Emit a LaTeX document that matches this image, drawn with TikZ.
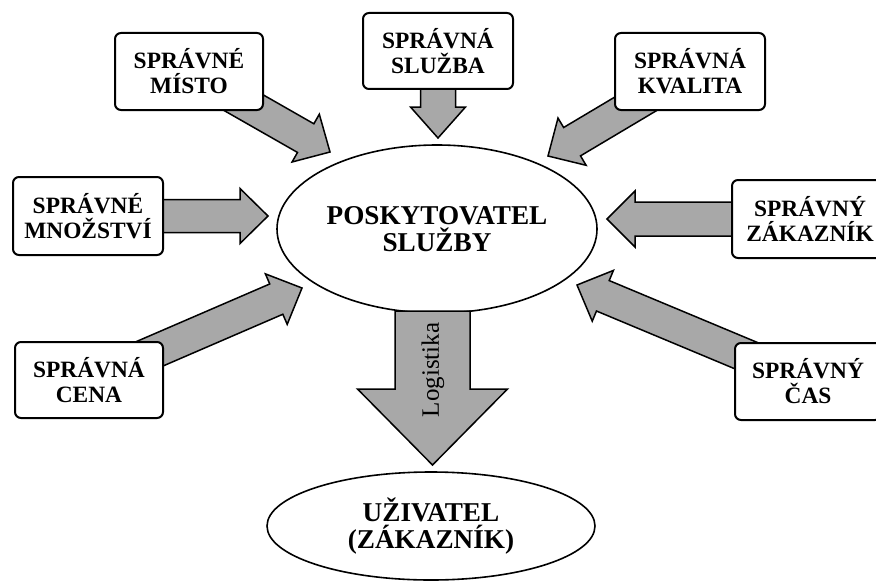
\documentclass[tikz,border=0pt]{standalone}
\usepackage{fontspec}
\setmainfont{Liberation Serif}
\usetikzlibrary{calc,shapes.geometric}
\definecolor{arrowgray}{RGB}{168,168,168}
\pgfdeclarelayer{bg}
\pgfsetlayers{bg,main}
% #1 start, #2 tip, #3 half shaft, #4 half head, #5 head length
\newcommand\fatarrow[5]{%
  \coordinate (faC) at ($(#2)!#5!(#1)$);
  \draw[fatarr] ($(#1)!#3!90:(#2)$) -- ($(faC)!#3!90:(#2)$) -- ($(faC)!#4!90:(#2)$)
    -- (#2) -- ($(faC)!#4!-90:(#2)$) -- ($(faC)!#3!-90:(#2)$) -- ($(#1)!#3!-90:(#2)$) -- cycle;%
}
\begin{document}
\begin{tikzpicture}[x=0.5pt,y=-0.5pt,
  fatarr/.style={draw=black, line width=0.75pt, fill=arrowgray, line join=miter},
  rbox/.style={draw, line width=1pt, rounded corners=3pt, fill=white,
    minimum width=75pt, minimum height=38.5pt, inner sep=0pt, align=center,
    font=\fontsize{11.7}{12.5}\selectfont\bfseries},
  oval/.style={ellipse, draw, line width=0.8pt, fill=white, inner sep=0pt,
    align=center, font=\fontsize{13.6}{13.6}\selectfont\bfseries},
  lbl/.style={inner sep=0pt, font=\fontsize{12.5}{13}\selectfont}]
\useasboundingbox (0,0) rectangle (876,583);
\begin{pgfonlayer}{bg}
\fill[white] (0,0) rectangle (876,583);
\end{pgfonlayer}

% boxes
\node[rbox, minimum width=74pt] (misto) at (189,71.5) {SPRÁVNÉ\\MÍSTO};
\node[rbox, minimum height=38pt] (sluzba) at (438,51) {SPRÁVNÁ\\SLUŽBA};
\node[rbox] (kvalita) at (690,71.5) {SPRÁVNÁ\\KVALITA};
\node[rbox, minimum height=39pt] (mnozstvi) at (88,216) {SPRÁVNÉ\\MNOŽSTVÍ};
\node[rbox, minimum width=78pt, minimum height=39pt] (zakaznik) at (810,219) {SPRÁVNÝ\\ZÁKAZNÍK};
\node[rbox, minimum width=74pt, minimum height=38pt] (cena) at (89,380) {SPRÁVNÁ\\CENA};
\node[rbox, minimum width=73pt] (cas) at (808,381.5) {SPRÁVNÝ\\ČAS};

% ellipses
\node[oval, minimum width=160pt, minimum height=84pt] (posk) at (437,229) {POSKYTOVATEL\\SLUŽBY};
\node[oval, minimum width=164pt, minimum height=54pt] (uziv) at (431,526) {UŽIVATEL\\(ZÁKAZNÍK)};

% arrow tips
\coordinate (tM) at (330,152);
\coordinate (tS) at (438,138);
\coordinate (tK) at (548,156);
\coordinate (tN) at (268,216);
\coordinate (tZ) at (607,219);
\coordinate (tC) at (302,288);
\coordinate (tT) at (577,285);

\begin{pgfonlayer}{bg}
  \fatarrow{misto.center}{tM}{8.25pt}{13.75pt}{14pt}
  \fatarrow{sluzba.center}{tS}{8.75pt}{13.75pt}{15.5pt}
  \fatarrow{kvalita.center}{tK}{8.25pt}{13.75pt}{14pt}
  \fatarrow{mnozstvi.center}{tN}{8.25pt}{13.75pt}{14pt}
  \fatarrow{zakaznik.center}{tZ}{8.5pt}{14pt}{14pt}
  \fatarrow{cena.center}{tC}{8.25pt}{13.75pt}{14pt}
  \fatarrow{cas.center}{tT}{8.25pt}{13.75pt}{14pt}
\end{pgfonlayer}

% logistics arrow
\coordinate (lgS) at (432.5,311);
\coordinate (lgT) at (432.5,465);
\fatarrow{lgS}{lgT}{18.75pt}{37.5pt}{38pt}
\node[lbl, rotate=90] (logist) at (433,370) {Logistika};
\end{tikzpicture}
\end{document}
